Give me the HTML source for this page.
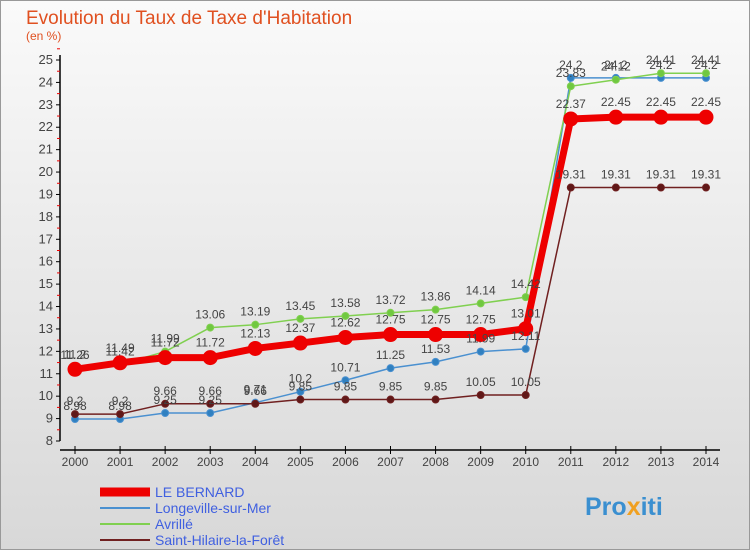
<!DOCTYPE html>
<html><head><meta charset="utf-8"><style>
body{margin:0;width:750px;height:550px;overflow:hidden;font-family:"Liberation Sans",sans-serif}
#c{position:absolute;left:0;top:0}
</style></head><body>
<svg id="c" width="750" height="550" xmlns="http://www.w3.org/2000/svg">
<defs><linearGradient id="bg" x1="0" y1="0" x2="0" y2="1"><stop offset="0" stop-color="#fafafa"/><stop offset="1" stop-color="#d8d8d8"/></linearGradient></defs>
<rect x="0" y="0" width="750" height="550" fill="url(#bg)"/>
<rect x="0.5" y="0.5" width="749" height="549" fill="none" stroke="#999"/>
<text x="26" y="24" font-size="19" fill="#e05020">Evolution du Taux de Taxe d'Habitation</text>
<text x="26" y="40" font-size="12" fill="#e05020">(en %)</text>
<g id="axes"></g><g id="series"></g><g id="labels"></g>
<g font-size="14">
<line x1="100" y1="492" x2="150" y2="492" stroke="#e00" stroke-width="9"/>
<text x="155" y="497" fill="#4060e0">LE BERNARD</text>
<line x1="100" y1="508" x2="150" y2="508" stroke="#4a90d0" stroke-width="2"/>
<text x="155" y="513" fill="#4060e0">Longeville-sur-Mer</text>
<line x1="100" y1="524" x2="150" y2="524" stroke="#80d050" stroke-width="2"/>
<text x="155" y="529" fill="#4060e0">Avrillé</text>
<line x1="100" y1="540" x2="150" y2="540" stroke="#702020" stroke-width="2"/>
<text x="155" y="545" fill="#4060e0">Saint-Hilaire-la-Forêt</text>
</g>
<text x="585" y="515" font-size="25" font-weight="bold" fill="#3a8fd0">Pro<tspan fill="#f0a020">x</tspan>iti</text>
</svg>
<script>
const years=[2000,2001,2002,2003,2004,2005,2006,2007,2008,2009,2010,2011,2012,2013,2014];
const yTicks=[8,9,10,11,12,13,14,15,16,17,18,19,20,21,22,23,24,25];
const leBernard=[11.2,11.49,11.72,11.72,12.13,12.37,12.62,12.75,12.75,12.75,13.01,22.37,22.45,22.45,22.45];
const longeville=[8.98,8.98,9.25,9.25,9.71,10.2,10.71,11.25,11.53,11.99,12.11,24.2,24.2,24.2,24.2];
const avrille=[11.26,11.42,11.99,13.06,13.19,13.45,13.58,13.72,13.86,14.14,14.42,23.83,24.12,24.41,24.41];
const saintHilaire=[9.2,9.2,9.66,9.66,9.66,9.85,9.85,9.85,9.85,10.05,10.05,19.31,19.31,19.31,19.31];
const NS="http://www.w3.org/2000/svg";
const xS=i=>75+i*(706-75)/14;
const yS=v=>441-(v-8)*(441-60)/17;
function mk(t,a,p){const e=document.createElementNS(NS,t);for(const k in a)e.setAttribute(k,a[k]);p.appendChild(e);return e;}
const ax=document.getElementById('axes');
const yl=mk('line',{x1:60,y1:55,x2:60,y2:441,stroke:'#000','stroke-width':1.5},ax);


const xl=mk('line',{x1:60,y1:450,x2:720,y2:450,stroke:'#000','stroke-width':1.5},ax);


yTicks.forEach(v=>{const y=yS(v);
mk('line',{x1:56,y1:y,x2:60,y2:y,stroke:'#000'},ax);
mk('line',{x1:57,y1:y-11.2,x2:60,y2:y-11.2,stroke:'#e00'},ax);
const t=mk('text',{x:53,y:y+4,'font-size':13,'text-anchor':'end',fill:'#444'},ax);t.textContent=v;

});
years.forEach((yr,i)=>{const x=xS(i);
mk('line',{x1:x,y1:446,x2:x,y2:454,stroke:'#000'},ax);
const t=mk('text',{x:x,y:466,'font-size':12,'text-anchor':'middle',fill:'#444'},ax);t.textContent=yr;

});
const sg=document.getElementById('series'),lg=document.getElementById('labels');
function draw(data,color,w,r,name,dot){
const pts=data.map((v,i)=>xS(i)+','+yS(v)).join(' ');
const pl=mk('polyline',{points:pts,fill:'none',stroke:color,'stroke-width':w,'stroke-linejoin':'round'},sg);


data.forEach((v,i)=>{const c=mk('circle',{cx:xS(i),cy:yS(v),r:r,fill:dot,stroke:color,'stroke-width':1},sg);


const t=mk('text',{x:xS(i),y:yS(v)-9-(r>5?2:0),'font-size':12,'text-anchor':'middle',fill:'#444'},lg);t.textContent=v;

});}
draw(longeville,'#4a90d0',1.5,3.5,'longeville','#3080c0');
draw(avrille,'#80d050',1.5,3.5,'avrille','#70c840');
draw(saintHilaire,'#702020',1.5,3.5,'saint-hilaire','#601818');
draw(leBernard,'#e00',7,7,'le-bernard','#e00');
</script>
</body></html>
